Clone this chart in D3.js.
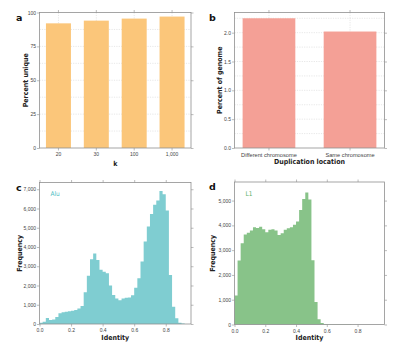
<!DOCTYPE html>
<html>
<head>
<meta charset="utf-8">
<script src="https://cdn.jsdelivr.net/npm/d3@7"></script>
<style>
  body { margin: 0; background: #fff; }
  svg { display: block; font-family: "Liberation Sans Narrow", "DejaVu Sans Condensed", "Noto Sans", sans-serif; }
</style>
</head>
<body>
<div id="chart"></div>
<script>
// panel a: share of the genome that is unique for each k
const K_LABELS = ["20", "30", "100", "1,000"];
const PERCENT_UNIQUE = [92, 94, 95.5, 97];

// panel b: segmental duplications by location
const DUP_LOCATIONS = ["Different chromosome", "Same chromosome"];
const PERCENT_GENOME = [2.25, 2.02];

// panels c, d: identity histograms, bins of 0.02 starting at 0
const BIN_WIDTH = 0.02;
const ALU_COUNTS = [
  70, 120, 310, 210, 240, 370, 560, 610, 630, 660,
  690, 730, 800, 930, 1650, 2500, 3360, 3660, 3330, 2820,
  2710, 2640, 2000, 1500, 1330, 1240, 1330, 1370, 1380, 1490,
  1880, 2370, 3240, 4280, 5060, 5720, 6190, 6410, 6910, 6740,
  5900, 2540, 900, 300, 70, 20
];
const L1_COUNTS = [
  1170, 2580, 3280, 3630, 3700, 3790, 3920, 3890, 3940, 3840,
  3720, 3820, 3840, 3790, 3610, 3680, 3820, 3880, 3920, 4020,
  4160, 4620, 5060, 5330, 5040, 2590, 910, 210, 60, 25,
  15, 12, 10, 9, 8, 7, 6, 6, 5, 5,
  5, 4, 4, 4, 3, 3
];

const WIDTH = 415;
const HEIGHT = 344;
const FRAME_COLOR = "#8f8f8f";
const GRID_COLOR = "#cfcfcf";
const TICK_TEXT = "#444";
const TICK_SIZE = 2.5;

const BOX = {
  a: { left: 39.5, right: 191, top: 12.5, bottom: 148 },
  b: { left: 234.5, right: 384.5, top: 12.5, bottom: 148 },
  c: { left: 39.5, right: 191, top: 182.5, bottom: 324 },
  d: { left: 234.5, right: 384.5, top: 182, bottom: 324.5 }
};

const svg = d3.select("#chart")
  .append("svg")
  .attr("width", WIDTH)
  .attr("height", HEIGHT);

svg.append("rect").attr("width", WIDTH).attr("height", HEIGHT).attr("fill", "#fff");

const styleAxis = (g, fontSize) => {
  g.select(".domain").remove();
  g.selectAll(".tick line").attr("stroke", FRAME_COLOR).attr("stroke-width", 0.6);
  g.selectAll(".tick text")
    .attr("fill", TICK_TEXT)
    .attr("font-size", fontSize)
    .attr("font-family", null);
};

// ticks on all four sides, labels only left and bottom
const drawAxes = (box, x, y, yTicks, yFmt, xTicks, xFmt, xFont) => {
  const left = svg.append("g").attr("transform", `translate(${box.left},0)`)
    .call(d3.axisLeft(y).tickValues(yTicks).tickSize(TICK_SIZE).tickPadding(1).tickFormat(yFmt));
  styleAxis(left, 5);
  const right = svg.append("g").attr("transform", `translate(${box.right},0)`)
    .call(d3.axisRight(y).tickValues(yTicks).tickSize(TICK_SIZE).tickFormat(""));
  styleAxis(right, 5);
  const bottomAxis = d3.axisBottom(x).tickSize(TICK_SIZE).tickPadding(2);
  const topAxis = d3.axisTop(x).tickSize(TICK_SIZE).tickFormat("");
  if (xTicks) {
    bottomAxis.tickValues(xTicks);
    topAxis.tickValues(xTicks);
  }
  if (xFmt) bottomAxis.tickFormat(xFmt);
  const bottom = svg.append("g").attr("transform", `translate(0,${box.bottom})`).call(bottomAxis);
  styleAxis(bottom, xFont);
  const top = svg.append("g").attr("transform", `translate(0,${box.top})`).call(topAxis);
  styleAxis(top, xFont);
};

const drawFrame = (box) => {
  svg.append("rect")
    .attr("x", box.left)
    .attr("y", box.top)
    .attr("width", box.right - box.left)
    .attr("height", box.bottom - box.top)
    .attr("fill", "none")
    .attr("stroke", FRAME_COLOR)
    .attr("stroke-width", 0.8);
};

const drawTitles = (box, letter, lx, ly, xTitle, xTitleY, yTitle, yTitleX) => {
  svg.append("text")
    .attr("x", lx).attr("y", ly)
    .attr("font-size", 9.5).attr("font-weight", "bold")
    .attr("font-family", "'DejaVu Sans', sans-serif")
    .attr("fill", "#111")
    .text(letter);
  svg.append("text")
    .attr("x", (box.left + box.right) / 2).attr("y", xTitleY)
    .attr("text-anchor", "middle")
    .attr("font-size", 7).attr("font-weight", "bold")
    .attr("fill", "#222")
    .text(xTitle);
  svg.append("text")
    .attr("transform", `translate(${yTitleX},${(box.top + box.bottom) / 2}) rotate(-90)`)
    .attr("text-anchor", "middle")
    .attr("font-size", 7).attr("font-weight", "bold")
    .attr("fill", "#222")
    .text(yTitle);
};

const drawGrid = (box, x, yValues, y) => {
  const grid = svg.append("g")
    .attr("stroke", GRID_COLOR)
    .attr("stroke-width", 0.5)
    .attr("stroke-dasharray", "1.2,1.2");
  grid.selectAll(".h")
    .data(yValues)
    .join("line")
    .attr("x1", box.left).attr("x2", box.right)
    .attr("y1", d => y(d)).attr("y2", d => y(d));
  grid.selectAll(".v")
    .data(x.domain())
    .join("line")
    .attr("x1", d => x(d) + x.bandwidth() / 2).attr("x2", d => x(d) + x.bandwidth() / 2)
    .attr("y1", box.top).attr("y2", box.bottom);
};

// ---- a ----
{
  const box = BOX.a;
  const x = d3.scaleBand().domain(K_LABELS).range([box.left, box.right]).paddingInner(0.34).paddingOuter(0.17);
  const y = d3.scaleLinear().domain([0, 100]).range([box.bottom, box.top]);
  drawGrid(box, x, d3.range(12.5, 100, 12.5), y);
  svg.append("g").selectAll("rect")
    .data(PERCENT_UNIQUE)
    .join("rect")
    .attr("x", (d, i) => x(K_LABELS[i]))
    .attr("y", d => y(d))
    .attr("width", x.bandwidth())
    .attr("height", d => y(0) - y(d))
    .attr("fill", "#fbc67a");
  drawAxes(box, x, y, [0, 25, 50, 75, 100], d3.format("d"), null, null, 5);
  drawFrame(box);
  drawTitles(box, "a", 16, 20.5, "k", 166, "Percent unique", 28);
}

// ---- b ----
{
  const box = BOX.b;
  const x = d3.scaleBand().domain(DUP_LOCATIONS).range([box.left, box.right]).paddingInner(0.35).paddingOuter(0.1);
  const y = d3.scaleLinear().domain([0, 2.35]).range([box.bottom, box.top]);
  drawGrid(box, x, [0.25, 0.5, 0.75, 1, 1.25, 1.5, 1.75, 2, 2.25], y);
  svg.append("g").selectAll("rect")
    .data(PERCENT_GENOME)
    .join("rect")
    .attr("x", (d, i) => x(DUP_LOCATIONS[i]))
    .attr("y", d => y(d))
    .attr("width", x.bandwidth())
    .attr("height", d => y(0) - y(d))
    .attr("fill", "#f4a096");
  drawAxes(box, x, y, [0, 0.5, 1, 1.5, 2], d3.format(".1f"), null, null, 5.7);
  drawFrame(box);
  drawTitles(box, "b", 209, 20.5, "Duplication location", 164, "Percent of genome", 222);
}

// ---- histograms ----
const histogram = (box, counts, xMax, yMax, yTicks, color) => {
  const x = d3.scaleLinear().domain([0, xMax]).range([box.left, box.right]);
  const y = d3.scaleLinear().domain([0, yMax]).range([box.bottom, box.top]);
  const steps = counts.map((c, i) => ({ x0: i * BIN_WIDTH, count: c }));
  steps.push({ x0: counts.length * BIN_WIDTH, count: counts[counts.length - 1] });
  const area = d3.area()
    .curve(d3.curveStepAfter)
    .x(d => x(d.x0))
    .y0(y(0))
    .y1(d => y(d.count));
  svg.append("path")
    .datum(steps)
    .attr("d", area)
    .attr("fill", color);
  drawAxes(box, x, y, yTicks, d3.format(","), [0, 0.2, 0.4, 0.6, 0.8], d3.format(".1f"), 5);
  drawFrame(box);
};

{
  const box = BOX.c;
  histogram(box, ALU_COUNTS, 0.96, 7350, d3.range(0, 7001, 1000), "#7fcdd1");
  drawTitles(box, "c", 16, 190.5, "Identity", 340, "Frequency", 22);
  svg.append("text")
    .attr("x", 50.5).attr("y", 196)
    .attr("font-size", 6.5)
    .attr("fill", "#4dbcc4")
    .text("Alu");
}

{
  const box = BOX.d;
  histogram(box, L1_COUNTS, 0.975, 5750, d3.range(0, 5001, 1000), "#88c389");
  drawTitles(box, "d", 209, 189.5, "Identity", 340, "Frequency", 215);
  svg.append("text")
    .attr("x", 245.5).attr("y", 196)
    .attr("font-size", 6.5)
    .attr("fill", "#62b067")
    .text("L1");
}
</script>
</body>
</html>
